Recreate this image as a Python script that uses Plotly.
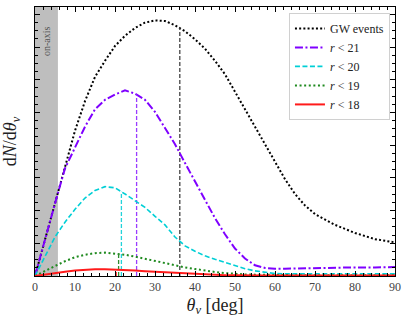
import numpy as np
import plotly.graph_objects as go

# viewing angle grid [deg]
theta = [0, 2.5, 5, 7.5, 10, 12.5, 15, 17.5, 20, 22.5, 25, 27.5, 30, 32.5, 35, 37.5,
         40, 42.5, 45, 47.5, 50, 52.5, 55, 57.5, 60, 62.5, 65, 67.5, 70, 75, 80, 85, 90]

gw_events = [0, 0.135, 0.27, 0.405, 0.54, 0.65, 0.74, 0.80, 0.855, 0.893, 0.922, 0.942, 0.95,
             0.948, 0.932, 0.91, 0.88, 0.845, 0.80, 0.75, 0.685, 0.625, 0.56, 0.49, 0.425,
             0.36, 0.305, 0.262, 0.23, 0.19, 0.16, 0.137, 0.125]
r21 = [0, 0.14, 0.27, 0.40, 0.48, 0.555, 0.62, 0.655, 0.675, 0.69, 0.678, 0.655, 0.61,
       0.55, 0.49, 0.42, 0.35, 0.283, 0.215, 0.155, 0.102, 0.065, 0.04, 0.03, 0.027,
       0.027, 0.028, 0.029, 0.03, 0.031, 0.032, 0.032, 0.033]
r20 = [0, 0.075, 0.145, 0.20, 0.248, 0.29, 0.318, 0.332, 0.328, 0.305, 0.28, 0.255, 0.222,
       0.19, 0.145, 0.112, 0.092, 0.075, 0.062, 0.05, 0.038, 0.027, 0.019, 0.013, 0.009,
       0.008, 0.008, 0.008, 0.008, 0.008, 0.008, 0.008, 0.008]
r19 = [0, 0.02, 0.037, 0.055, 0.07, 0.079, 0.085, 0.087, 0.084, 0.079, 0.072, 0.064, 0.055,
       0.047, 0.039, 0.032, 0.026, 0.02, 0.015, 0.011, 0.008, 0.006, 0.005, 0.004, 0.004,
       0.003, 0.003, 0.003, 0.003, 0.003, 0.003, 0.003, 0.003]
r18 = [0, 0.006, 0.011, 0.016, 0.02, 0.023, 0.025, 0.025, 0.024, 0.022, 0.02, 0.018, 0.016,
       0.013, 0.011, 0.009, 0.007, 0.006, 0.004, 0.003, 0.003, 0.002, 0.002, 0.002, 0.002,
       0.002, 0.002, 0.002, 0.002, 0.002, 0.002, 0.002, 0.002]

# median viewing angles [deg]
median_theta = {"gw": 36.2, "r21": 25.4, "r20": 21.6, "r19": 20.9, "r18": 20.3}

on_axis_limit = np.degrees(0.1)  # shaded on-axis region [deg]

names = ["GW events", "<i>r</i> < 21", "<i>r</i> < 20", "<i>r</i> < 19", "<i>r</i> < 18"]
keys = ["gw", "r21", "r20", "r19", "r18"]
series = [gw_events, r21, r20, r19, r18]
colors = ["#000000", "#7f00ff", "#00cfd6", "#1f8a1f", "#ff1a1a"]
dashes = ["2px,2.2px", "8px,2.5px,2px,2.5px", "5px,2.5px", "2px,2.6px", "solid"]
widths = [2, 2, 1.6, 2, 2]
vcolors = ["#444444", "#9a3cff", "#22d3da", "#2e8b2e", "#ff2a2a"]

FONT = "Liberation Serif"

fig = go.Figure()

for name, key, ys, c, d, w, vc in zip(names, keys, series, colors, dashes, widths, vcolors):
    fig.add_trace(go.Scatter(x=theta, y=ys, mode="lines", name=name,
                             line=dict(color=c, dash=d, width=w)))
    mt = median_theta[key]
    top = float(np.interp(mt, theta, ys))
    fig.add_trace(go.Scatter(x=[mt, mt], y=[0, top], mode="lines", showlegend=False,
                             hoverinfo="skip",
                             line=dict(color=vc, dash="4px,2px", width=1.3)))

fig.add_shape(type="rect", xref="x", yref="paper", x0=0, x1=on_axis_limit, y0=0, y1=1,
              fillcolor="#bebebe", line=dict(width=0), layer="below")
fig.add_annotation(x=on_axis_limit / 2, y=0.875, xref="x", yref="y", text="on-axis",
                   textangle=-90, showarrow=False,
                   font=dict(family=FONT, size=10, color="#555555"))

major = 0.1216
fig.update_xaxes(range=[0, 90], dtick=10, tick0=0, ticks="inside", ticklen=5, tickwidth=1,
                 tickcolor="black", showline=True, linecolor="black", linewidth=1,
                 mirror="allticks", showgrid=False, zeroline=False, automargin=False,
                 minor=dict(dtick=2, ticks="inside", ticklen=3, tickcolor="black", showgrid=False),
                 tickfont=dict(family=FONT, size=12, color="#444444"),
                 title=dict(text="<i>θ<sub>v</sub></i> [deg]", font=dict(family=FONT, size=18, color="#222222"),
                            standoff=4))
fig.update_yaxes(range=[0, 1], dtick=major, tick0=0, ticks="inside", ticklen=5, tickwidth=1,
                 tickcolor="black", showline=True, linecolor="black", linewidth=1,
                 mirror="allticks", showgrid=False, zeroline=False, showticklabels=False,
                 automargin=False,
                 minor=dict(dtick=major / 4, ticks="inside", ticklen=3, tickcolor="black", showgrid=False),
                 title=dict(text="d<i>N</i>/d<i>θ<sub>v</sub></i>", font=dict(family=FONT, size=18, color="#222222"),
                            standoff=22))

fig.update_layout(
    width=409, height=325,
    margin=dict(l=35, r=14, t=7, b=49, autoexpand=False),
    plot_bgcolor="white", paper_bgcolor="white",
    showlegend=True,
    legend=dict(x=0.986, y=0.978, xanchor="right", yanchor="top",
                bgcolor="white", bordercolor="#d0d0d0", borderwidth=1,
                font=dict(family=FONT, size=12, color="#222222"),
                tracegroupgap=0),
)

fig.write_html("out.html", config={"displayModeBar": False},
               post_script="document.body.style.margin='0';document.body.style.overflow='hidden';")
